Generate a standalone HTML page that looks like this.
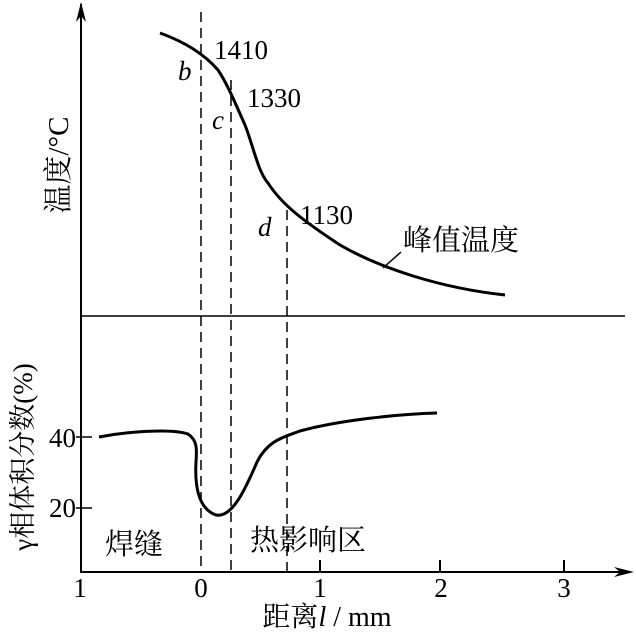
<!DOCTYPE html>
<html><head><meta charset="utf-8"><style>
html,body{margin:0;padding:0;background:#fff;}
svg text{font-family:"Liberation Serif","Noto Serif CJK SC",serif;fill:#000;}
</style></head><body>
<svg width="636" height="632" viewBox="0 0 636 632" xmlns="http://www.w3.org/2000/svg">
<g stroke="#000" fill="none" stroke-width="2">
<line x1="81" y1="4" x2="81" y2="573"/>
<line x1="80" y1="316" x2="625" y2="316" stroke-width="1.5"/>
<line x1="80" y1="572" x2="628" y2="572"/>
<line x1="320" y1="572" x2="320" y2="560"/>
<line x1="440" y1="572" x2="440" y2="560"/>
<line x1="564" y1="572" x2="564" y2="560"/>
<line x1="76" y1="437" x2="92" y2="437" stroke-width="1.5"/>
<line x1="76" y1="508" x2="92" y2="508" stroke-width="1.5"/>
</g>
<path d="M81 2 L76 22 L81 16 L86 22 Z" fill="#000"/>
<path d="M634 572 L614 567 L620 572 L614 577 Z" fill="#000"/>
<g stroke="#000" stroke-width="1.5" stroke-dasharray="10,6" fill="none">
<line x1="201" y1="12" x2="201" y2="572"/>
<line x1="231" y1="80" x2="231" y2="572"/>
<line x1="287" y1="210" x2="287" y2="572"/>
</g>
<path d="M160 33 C185 42 205 55 218 70 C228 85 236 105 245 125 C253 145 258 172 268 183 C282 205 305 222 340 245 C380 268 440 288 505 295" stroke="#000" stroke-width="3" fill="none"/>
<path d="M99 437 C125 432 170 428 188 434 C197 440 197 448 196 462 C195 480 196 508 216 515 C232 518 245 490 257 462 C268 440 284 437 300 431 C340 420 400 414 437 413" stroke="#000" stroke-width="3" fill="none"/>
<line x1="401" y1="252" x2="383" y2="268" stroke="#000" stroke-width="1.5"/>
<g font-size="27">
<text x="214" y="59">1410</text>
<text x="247" y="107">1330</text>
<text x="300" y="224">1130</text>
<text x="178" y="80" font-style="italic">b</text>
<text x="212" y="129" font-style="italic">c</text>
<text x="258" y="236" font-style="italic">d</text>
<text x="76" y="447" text-anchor="end">40</text>
<text x="76" y="517" text-anchor="end">20</text>
<text x="80" y="597" text-anchor="middle">1</text>
<text x="201" y="597" text-anchor="middle">0</text>
<text x="320" y="597" text-anchor="middle">1</text>
<text x="441" y="597" text-anchor="middle">2</text>
<text x="564" y="597" text-anchor="middle">3</text>
</g>
<g font-size="29">
<text x="403" y="250">峰值温度</text>
<text x="105" y="554">焊缝</text>
<text x="250" y="550">热影响区</text>
<text x="327" y="626" text-anchor="middle" font-size="28">距离<tspan font-style="italic">l</tspan> / mm</text>
<text transform="translate(68,165) rotate(-90)" text-anchor="middle">温度/°C</text>
<text transform="translate(32,457) rotate(-90)" text-anchor="middle" font-size="27">γ相体积分数(%)</text>
</g>
</svg>
</body></html>
